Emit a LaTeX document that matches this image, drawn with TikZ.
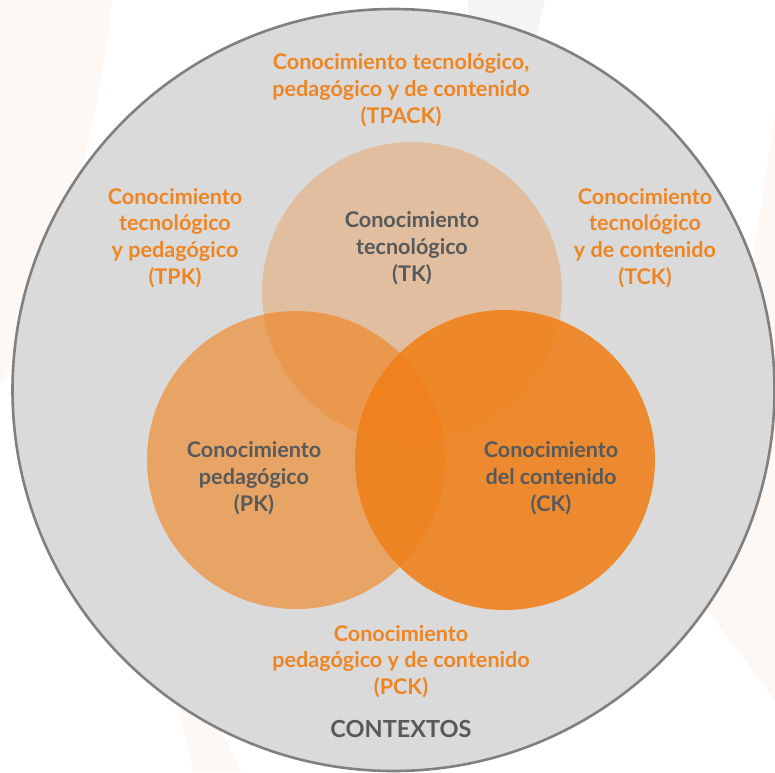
\documentclass[tikz,border=0pt]{standalone}
\usepackage{fontspec}
\setmainfont{Lato}
\definecolor{bgpale}{RGB}{253,248,244}
\definecolor{bggray}{RGB}{243,244,246}
\definecolor{ctxfill}{RGB}{218,218,218}
\definecolor{ctxline}{RGB}{128,128,128}
\definecolor{baseorange}{RGB}{240,128,24}
\definecolor{txtorange}{RGB}{238,133,34}
\definecolor{txtgray}{RGB}{88,89,91}
\tikzset{
  knowcircle/.style={circle, inner sep=0pt, minimum size=300pt, fill=baseorange, draw=none},
  outerlabel/.style={align=center, text=txtorange, font=\fontsize{21.6}{26.8}\selectfont\bfseries, inner sep=0pt},
  innerlabel/.style={align=center, text=txtgray, font=\fontsize{21.6}{27}\selectfont\bfseries, inner sep=0pt}
}
\begin{document}
\begin{tikzpicture}[x=1pt,y=-1pt]
\useasboundingbox (0,0) rectangle (775,772);
% faint background shapes
\fill[bgpale] (0,0) -- (112,0) .. controls (100,120) and (60,280) .. (0,385) -- cycle;
\fill[bggray] (468,0) -- (545,0) -- (530,60) -- (470,60) -- cycle;
\fill[bgpale] (775,115) -- (700,600) -- (775,700) -- cycle;
\fill[bgpale] (172,680) -- (200,680) .. controls (215,720) .. (242,772) -- (194,772) -- cycle;
% contexts circle
\node[circle, inner sep=0pt, minimum size=762pt, fill=ctxfill, draw=ctxline, line width=2.6pt] (ctx) at (393.5,390) {};
% knowledge circles
\node[knowcircle, fill opacity=0.3] (tk) at (412,292) {};
\node[knowcircle, fill opacity=0.6, minimum size=298pt] (pk) at (296,460) {};
\node[knowcircle, fill opacity=0.88] (ck) at (505,460) {};
% labels
\node[outerlabel] (tpack) at (401,90) {Conocimiento tecnológico,\\pedagógico y de contenido\\(TPACK)};
\node[outerlabel] (tpk) at (175,238) {Conocimiento\\tecnológico\\y pedagógico\\(TPK)};
\node[outerlabel] (tck) at (645,238) {Conocimiento\\tecnológico\\y de contenido\\(TCK)};
\node[innerlabel] (tktext) at (412,248) {Conocimiento\\tecnológico\\(TK)};
\node[innerlabel] (pktext) at (254,478) {Conocimiento\\pedagógico\\(PK)};
\node[innerlabel] (cktext) at (551,478) {Conocimiento\\del contenido\\(CK)};
\node[outerlabel] (pck) at (401,661.5) {Conocimiento\\pedagógico y de contenido\\(PCK)};
\node[text=txtgray, font=\fontsize{23.5}{27}\selectfont\bfseries, inner sep=0pt] (context) at (401,729) {CONTEXTOS};
\end{tikzpicture}
\end{document}
